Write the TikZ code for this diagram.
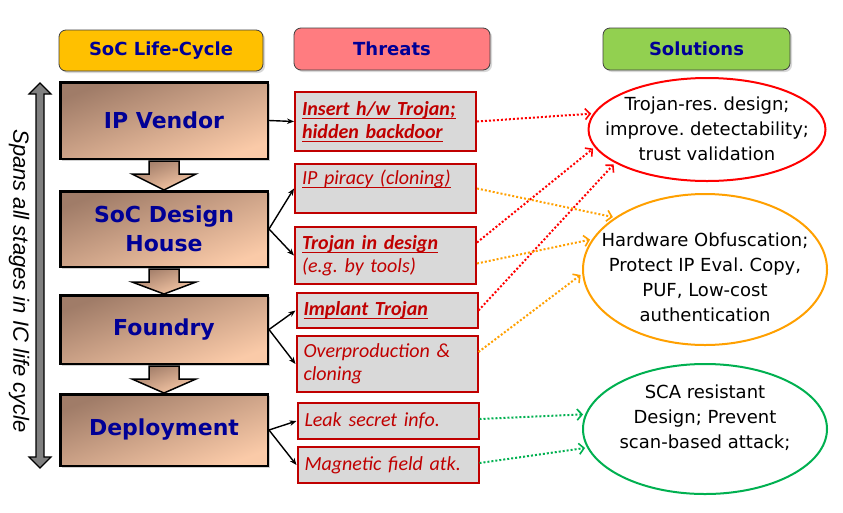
\documentclass[tikz,border=0pt]{standalone}
\usepackage{fontspec}
\setmainfont{Carlito}
\newfontfamily\tahomalike{DejaVu Sans}
\newfontfamily\arialike{Liberation Sans}
\usetikzlibrary{arrows.meta,positioning,calc,shapes.geometric,shadows}
\definecolor{headNavy}{RGB}{0, 0, 150}
\definecolor{lifeGold}{RGB}{255, 192, 0}
\definecolor{threatPink}{RGB}{255, 124, 128}
\definecolor{solGreen}{RGB}{146, 208, 80}
\definecolor{stageDark}{RGB}{160, 124, 104}
\definecolor{stageLight}{RGB}{250, 202, 168}
\definecolor{threatRed}{RGB}{192, 0, 0}
\definecolor{threatFill}{RGB}{217, 217, 217}
\definecolor{solRed}{RGB}{255, 0, 0}
\definecolor{solOrange}{RGB}{255, 160, 0}
\definecolor{solGreenLine}{RGB}{0, 176, 80}
\definecolor{spanGray}{RGB}{128, 128, 128}
\frenchspacing
\newcommand{\threatul}[1]{\leavevmode{\setbox0\hbox{#1}\rlap{\rule[-3.5pt]{\wd0}{1.1pt}}\box0}}
\newcommand{\stageflow}[2]{%
    \draw[flowarrow] ($(#1.south)+(-15,1.2)$) -- ($(#1.south)+(-15,14)$) -- ($(#1.south)+(-32,14)$)
        -- (#2.north) -- ($(#1.south)+(32,14)$) -- ($(#1.south)+(15,14)$) -- ($(#1.south)+(15,1.2)$) -- cycle;}

\begin{document}
\begin{tikzpicture}[x=1pt, y=-1pt,
        header/.style={draw=black!75, line width=0.8pt, rounded corners=7pt, inner sep=0pt,
            font=\tahomalike\bfseries\fontsize{18}{22}\selectfont, text=headNavy,
            drop shadow={shadow xshift=2pt, shadow yshift=-2pt, opacity=0.3}},
        stagebox/.style={draw=black, line width=2.5pt, top color=stageDark, bottom color=stageLight,
            shading angle=20, minimum width=207.5, inner sep=0pt, align=center, text=headNavy,
            font=\tahomalike\bfseries\fontsize{22}{29}\selectfont,
            drop shadow={shadow xshift=2pt, shadow yshift=-2pt, opacity=0.35}},
        flowarrow/.style={draw=black, line width=1.5pt, top color=stageDark, bottom color=stageLight,
            shading angle=20, line join=miter},
        threat/.style={draw=threatRed, line width=2pt, fill=threatFill, text=threatRed, text width=167,
            align=left, inner xsep=7, inner ysep=0pt, font=\itshape\fontsize{20}{23}\selectfont},
        solution/.style={ellipse, line width=2pt, inner sep=0pt},
        soltext/.style={align=center, inner sep=0pt, font=\tahomalike\fontsize{18}{25}\selectfont},
        stagelink/.style={line width=1.4pt, -{Stealth[length=7pt, width=5.5pt]}},
        dotlink/.style={line width=2pt, dotted, -{Straight Barb[length=5pt, width=11pt, line width=1.6pt]}, shorten >=2pt}]

    \path[use as bounding box, fill=white] (0,0) rectangle (843,512);

    % column headers
    \node[header, fill=lifeGold, minimum width=204, minimum height=41] (lifehead) at (161,50.5) {SoC Life-Cycle};
    \node[header, fill=threatPink, minimum width=196, minimum height=42] (threathead) at (392,49) {Threats};
    \node[header, fill=solGreen, minimum width=187, minimum height=42] (solhead) at (696.5,49) {Solutions};

    % life-cycle stages
    \node[stagebox, minimum height=76.5] (ipv) at (164,120.5) {IP Vendor};
    \node[stagebox, minimum height=75.5] (soc) at (164,229) {SoC Design\\House};
    \node[stagebox, minimum height=68.5] (fdy) at (164,329.5) {Foundry};
    \node[stagebox, minimum height=71.5] (dep) at (164,430) {Deployment};
    \stageflow{ipv}{soc}
    \stageflow{soc}{fdy}
    \stageflow{fdy}{dep}

    % span of all stages
    \coordinate (spanTop) at (40,83);
    \coordinate (spanBot) at (40,468);
    \draw[line width=1.2pt, fill=spanGray, line join=miter] (spanTop) -- (51,94) -- (44,94) -- (44,457) -- (51,457)
        -- (spanBot) -- (29,457) -- (36,457) -- (36,94) -- (29,94) -- cycle;
    \node[font=\arialike\itshape\fontsize{22}{26}\selectfont, rotate=-90] (spanlbl) at (19,281) {Spans all stages in IC life cycle};

    % threats
    \node[threat, minimum height=59] (t1) at (385.5,121.5) {\bfseries\threatul{Insert h/w Trojan;}\\\threatul{hidden backdoor}};
    \node[threat, minimum height=49] (t2) at (385.5,188.5) {\threatul{IP piracy (cloning)}\\\mbox{}};
    \node[threat, minimum height=57] (t3) at (385.5,255.5) {{\bfseries\threatul{Trojan in design}}\\(e.g. by tools)};
    \node[threat, minimum height=35] (t4) at (387,310.5) {\bfseries\threatul{Implant Trojan}};
    \node[threat, minimum height=56] (t5) at (387,364) {Overproduction \&\\cloning};
    \node[threat, minimum height=36] (t6) at (388,421) {Leak secret info.};
    \node[threat, minimum height=36] (t7) at (388,465) {Magnetic field atk.};

    \draw[stagelink] (ipv.east) -- (t1.west);
    \draw[stagelink] (soc.east) -- (t2.west);
    \draw[stagelink] (soc.east) -- (t3.west);
    \draw[stagelink] (fdy.east) -- (t4.west);
    \draw[stagelink] (fdy.east) -- (t5.west);
    \draw[stagelink] (dep.east) -- (t6.west);
    \draw[stagelink] (dep.east) -- (t7.west);

    % solutions
    \node[solution, draw=solRed, minimum width=237, minimum height=103] (e1) at (707,129.5) {};
    \node[solution, draw=solOrange, minimum width=244, minimum height=151] (e2) at (705,269.5) {};
    \node[solution, draw=solGreenLine, minimum width=244, minimum height=130] (e3) at (705,429) {};
    \node[soltext] (e1txt) at ($(e1.center)+(0,-1)$) {Trojan-res. design;\\improve. detectability;\\trust validation};
    \node[soltext] (e2txt) at ($(e2.center)+(0,8)$) {Hardware Obfuscation;\\Protect IP Eval. Copy,\\PUF, Low-cost\\authentication};
    \node[soltext] (e3txt) at ($(e3.center)+(0,-11)$) {SCA resistant\\Design; Prevent\\scan-based attack;};

    \draw[dotlink, solRed] (t1.east) -- (e1.172);
    \draw[dotlink, solRed] ($(t3.east)+(0,-13)$) -- (e1.189);
    \draw[dotlink, solRed] (t4.east) -- (e1.200);
    \draw[dotlink, solOrange] (t2.east) -- (e2.150);
    \draw[dotlink, solOrange] ($(t3.east)+(0,8)$) -- (e2.165);
    \draw[dotlink, solOrange] ($(t5.east)+(0,-12)$) -- (e2.182);
    \draw[dotlink, solGreenLine] ($(t6.east)+(0,-2)$) -- (e3.173);
    \draw[dotlink, solGreenLine] ($(t7.east)+(0,-2)$) -- (e3.189);
\end{tikzpicture}
\end{document}
